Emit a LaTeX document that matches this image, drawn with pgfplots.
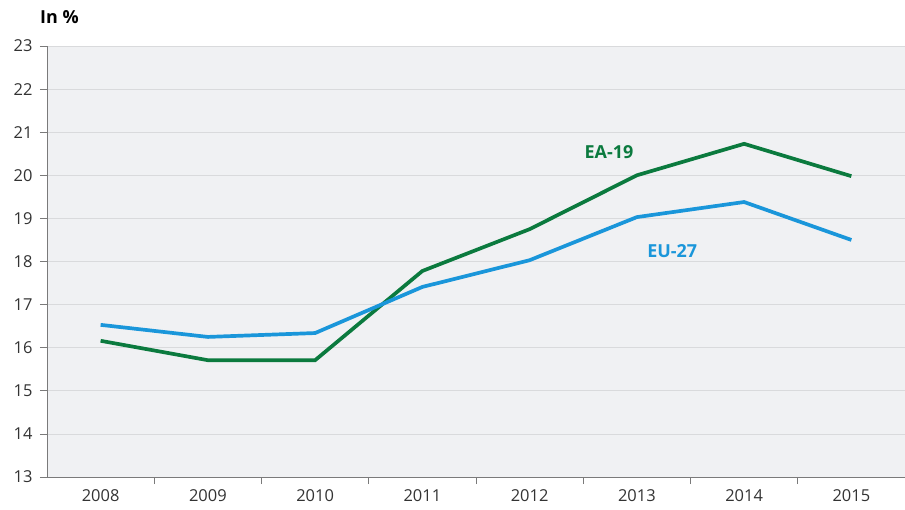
\documentclass[border=0pt]{standalone}
\usepackage{pgfplots}
\pgfplotsset{compat=1.18}
\usepackage{fontspec}
\setmainfont{Open Sans}
\definecolor{eagreen}{HTML}{0B7A3E}
\definecolor{eublue}{HTML}{1A96DA}
\definecolor{bgc}{HTML}{F0F1F3}
\definecolor{gridc}{HTML}{D9DADC}
\definecolor{axc}{HTML}{7A7A7A}
\definecolor{txt}{HTML}{333333}
\begin{document}
\begin{tikzpicture}
\begin{axis}[
  scale only axis, width=858bp, height=431bp,
  xmin=-0.5, xmax=7.5, ymin=13, ymax=23,
  axis background/.style={fill=bgc},
  axis x line*=bottom, axis y line*=left,
  axis line style={axc, line width=1pt, -},
  xtick={0,...,7},
  xticklabels={2008,2009,2010,2011,2012,2013,2014,2015},
  major x tick style={draw=none},
  minor xtick={0.5,1.5,2.5,3.5,4.5,5.5,6.5},
  minor x tick style={axc, line width=0.8pt},
  minor tick length=7bp,
  ytick={13,...,23},
  major tick length=7bp,
  tick align=outside,
  y tick style={axc, line width=0.8pt},
  ymajorgrids, major grid style={gridc, line width=0.8pt},
  tick label style={font=\fontsize{16.5}{19}\selectfont, text=txt},
  /pgf/number format/assume math mode=true,
  yticklabel style={xshift=-4bp},
  xticklabel style={yshift=-2bp},
  clip=false,
]
\addplot[eagreen, line width=3.7bp] coordinates {
 (0,16.16) (1,15.71) (2,15.71) (3,17.78) (4,18.75) (5,20.0) (6,20.73) (7,19.98)};
\addplot[eublue, line width=3.7bp] coordinates {
 (0,16.53) (1,16.25) (2,16.34) (3,17.41) (4,18.03) (5,19.03) (6,19.38) (7,18.5)};
\node[eagreen, font=\fontsize{18}{21}\selectfont\bfseries] at (axis cs:4.74,20.54) {EA-19};
\node[eublue, font=\fontsize{18}{21}\selectfont\bfseries] at (axis cs:5.33,18.24) {EU-27};
\end{axis}
\node[anchor=west, font=\fontsize{18}{21}\selectfont\bfseries, inner sep=0pt] at (-7bp,460bp) {In \%};
\pgfresetboundingbox
\path (-47bp,-33bp) rectangle (858bp,477bp);
\end{tikzpicture}
\end{document}
